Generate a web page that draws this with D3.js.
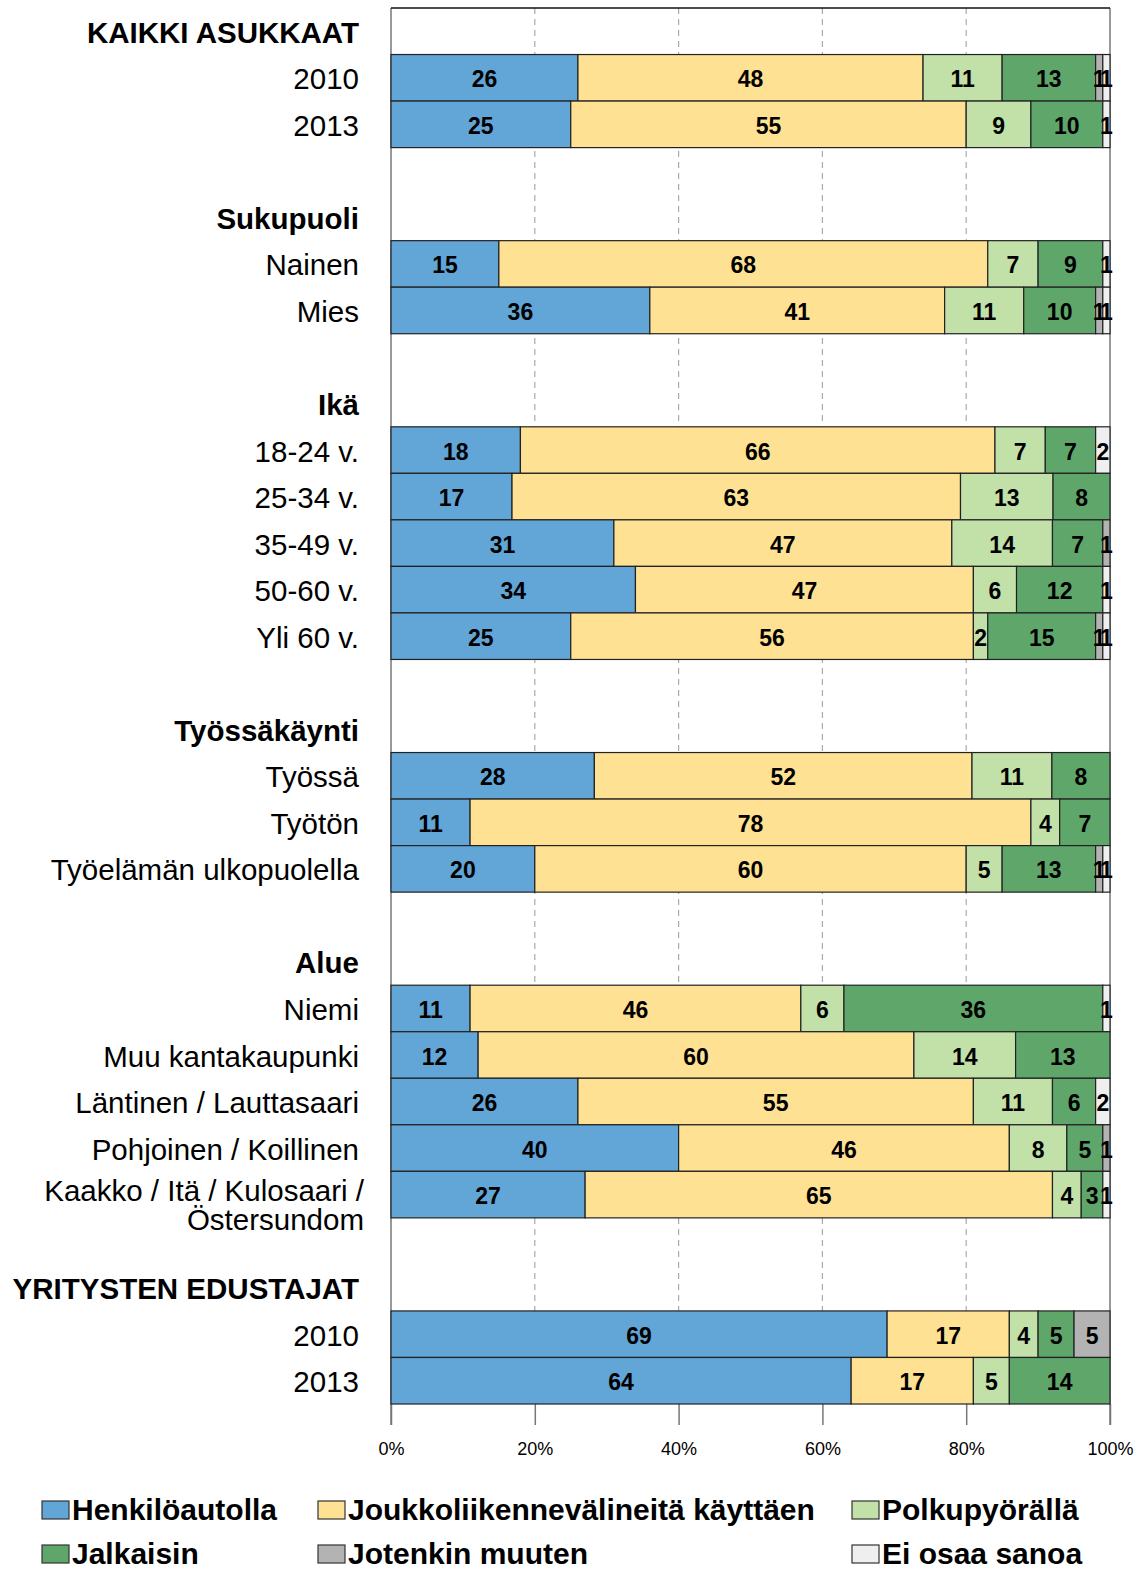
<!DOCTYPE html>
<html>
<head>
<meta charset="utf-8">
<script src="https://cdn.jsdelivr.net/npm/d3@7"></script>
<style>
  body { margin: 0; background: #fff; }
  text { font-family: "Liberation Sans", Arial, sans-serif; }
</style>
</head>
<body>
<script>
// Series (legend order)
var seriesNames = ["Henkilöautolla", "Joukkoliikennevälineitä käyttäen", "Polkupyörällä",
                   "Jalkaisin", "Jotenkin muuten", "Ei osaa sanoa"];
var seriesColors = ["#62a5d7", "#fee192", "#c1e1a9", "#5fa66b", "#b3b3b3", "#efefef"];

// Groups and their rows
var groupTitles = ["KAIKKI ASUKKAAT", "Sukupuoli", "Ikä", "Työssäkäynti", "Alue", "YRITYSTEN EDUSTAJAT"];
var groupRows = [
    ["2010", "2013"],
    ["Nainen", "Mies"],
    ["18-24 v.", "25-34 v.", "35-49 v.", "50-60 v.", "Yli 60 v."],
    ["Työssä", "Työtön", "Työelämän ulkopuolella"],
    ["Niemi", "Muu kantakaupunki", "Läntinen / Lauttasaari", "Pohjoinen / Koillinen", "Kaakko / Itä / Kulosaari /\nÖstersundom"],
    ["2010", "2013"]
];

// Values per series, one per data row (top to bottom)
var henkiloautolla = [26, 25, 15, 36, 18, 17, 31, 34, 25, 28, 11, 20, 11, 12, 26, 40, 27, 69, 64];
var joukkoliikenne = [48, 55, 68, 41, 66, 63, 47, 47, 56, 52, 78, 60, 46, 60, 55, 46, 65, 17, 17];
var polkupyoralla  = [11,  9,  7, 11,  7, 13, 14,  6,  2, 11,  4,  5,  6, 14, 11,  8,  4,  4,  5];
var jalkaisin      = [13, 10,  9, 10,  7,  8,  7, 12, 15,  8,  7, 13, 36, 13,  6,  5,  3,  5, 14];
var jotenkin       = [ 1,  0,  0,  1,  0,  0,  1,  0,  1,  0,  0,  1,  0,  0,  0,  1,  0,  5,  0];
var eiOsaa         = [ 1,  1,  1,  1,  2,  0,  0,  1,  1,  0,  0,  1,  1,  0,  2,  0,  1,  0,  0];

var xTicks = [0, 0.2, 0.4, 0.6, 0.8, 1];

var W = 1145, H = 1569;
var plotLeft = 391, plotRight = 1110, plotTop = 8, plotBottom = 1404;

var seriesValues = [henkiloautolla, joukkoliikenne, polkupyoralla, jalkaisin, jotenkin, eiOsaa];

// Build row list: header, data rows, blank spacer
var rows = [];
var di = 0;
groupTitles.forEach(function (g, gi) {
    rows.push({ type: "header", label: g });
    groupRows[gi].forEach(function (r) {
        var vals = seriesValues.map(function (s) { return s[di]; });
        rows.push({ type: "data", label: r, vals: vals });
        di++;
    });
    if (gi < groupTitles.length - 1) rows.push({ type: "blank", label: "" });
});

var svg = d3.select("body").append("svg")
    .attr("width", W)
    .attr("height", H);

var x = d3.scaleLinear().domain([0, 1]).range([plotLeft, plotRight]);
var y = d3.scaleBand().domain(d3.range(rows.length)).range([plotTop, plotBottom]).padding(0);

// gridlines
svg.append("g").selectAll("line").data([0.2, 0.4, 0.6, 0.8]).enter().append("line")
    .attr("x1", function (d) { return x(d); }).attr("x2", function (d) { return x(d); })
    .attr("y1", plotTop).attr("y2", plotBottom)
    .attr("stroke", "#aaa").attr("stroke-width", 1.2).attr("stroke-dasharray", "6,5");

// frame
svg.append("line").attr("x1", x(0)).attr("x2", x(0)).attr("y1", plotTop).attr("y2", plotBottom + 21)
    .attr("stroke", "#777").attr("stroke-width", 1.5);
svg.append("line").attr("x1", x(1)).attr("x2", x(1)).attr("y1", plotTop).attr("y2", plotBottom + 21)
    .attr("stroke", "#777").attr("stroke-width", 1.5);
svg.append("line").attr("x1", x(0)).attr("x2", x(1)).attr("y1", plotTop).attr("y2", plotTop)
    .attr("stroke", "#111").attr("stroke-width", 1.5);

// axis
var axis = d3.axisBottom(x).tickValues(xTicks).tickFormat(d3.format(".0%")).tickSize(21).tickPadding(17);
var ax = svg.append("g").attr("transform", "translate(0," + plotBottom + ")").call(axis);
ax.select(".domain").remove();
ax.selectAll(".tick line").attr("stroke", "#777").attr("stroke-width", 1.5);
ax.selectAll(".tick text").attr("font-size", 18).attr("fill", "#000")
    .style("font-family", "Liberation Sans, Arial, sans-serif");

// bars
var dataRows = rows.map(function (r, i) { r.i = i; return r; }).filter(function (r) { return r.type === "data"; });
dataRows.forEach(function (r) {
    var total = d3.sum(r.vals);
    var acc = 0;
    r.segs = r.vals.map(function (v, k) {
        var s = { k: k, v: v, i: r.i, x0: acc / total, x1: (acc + v) / total };
        acc += v;
        return s;
    }).filter(function (s) { return s.v > 0; });
});

var rowG = svg.append("g").selectAll("g").data(dataRows).enter().append("g");
rowG.selectAll("rect").data(function (r) { return r.segs; })
    .enter().append("rect")
    .attr("x", function (s) { return x(s.x0); })
    .attr("width", function (s) { return x(s.x1) - x(s.x0); })
    .attr("y", function (s) { return y(s.i); })
    .attr("height", y.bandwidth())
    .attr("fill", function (s) { return seriesColors[s.k]; })
    .attr("stroke", "#222").attr("stroke-width", 1.2);

rowG.selectAll("text").data(function (r) { return r.segs; })
    .enter().append("text")
    .attr("x", function (s) { return (x(s.x0) + x(s.x1)) / 2; })
    .attr("y", function (s) { return y(s.i) + y.bandwidth() / 2 + 9.5; })
    .attr("text-anchor", "middle")
    .attr("font-size", 23).attr("font-weight", "bold")
    .text(function (s) { return s.v; });

// row labels
var labelG = svg.append("g");
rows.forEach(function (r, i) {
    if (r.type === "blank") return;
    var lines = r.label.split("\n");
    var mid = y(i) + y.bandwidth() / 2;
    var t = labelG.append("text")
        .attr("text-anchor", "end")
        .attr("font-size", 29.5)
        .attr("font-weight", r.type === "header" ? "bold" : "normal");
    if (lines.length === 1) {
        t.attr("x", 359).attr("y", mid + 11.5).text(r.label);
    } else {
        lines.forEach(function (l, li) {
            t.append("tspan").attr("x", 364).attr("y", mid + 6.5 + li * 29).text(l);
        });
    }
});

// legend
var legendPos = [[42, 1501], [318, 1501], [852, 1501], [42, 1545], [318, 1545], [852, 1545]];
var lg = svg.append("g").selectAll("g").data(seriesNames).enter().append("g")
    .attr("transform", function (d, i) { return "translate(" + legendPos[i][0] + "," + legendPos[i][1] + ")"; });
lg.append("rect").attr("width", 27).attr("height", 18)
    .attr("fill", function (d, i) { return seriesColors[i]; })
    .attr("stroke", "#333").attr("stroke-width", 1.2);
lg.append("text").attr("x", 30).attr("y", 19).attr("font-size", 30).attr("font-weight", "bold")
    .text(function (d) { return d; });
</script>
</body>
</html>
